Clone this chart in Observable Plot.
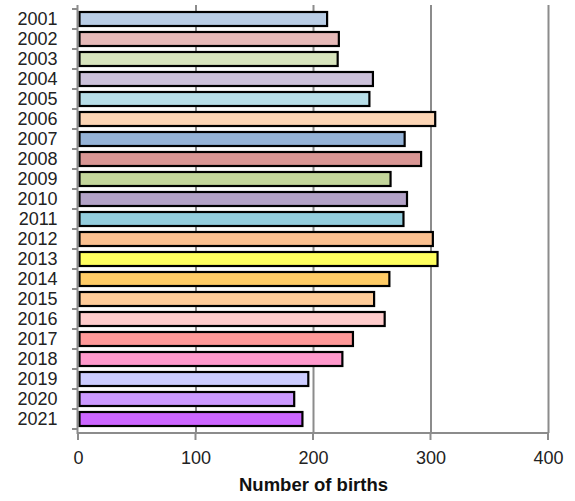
<!DOCTYPE html>
<html>
<head>
<meta charset="utf-8">
<script src="https://cdn.jsdelivr.net/npm/d3@7"></script>
<script src="https://cdn.jsdelivr.net/npm/@observablehq/plot@0.6"></script>
<style>
  html, body { margin: 0; padding: 0; background: #fff; }
  #chart svg { display: block; }
</style>
</head>
<body>
<div id="chart"></div>
<script>
const years = ["2001","2002","2003","2004","2005","2006","2007","2008","2009","2010","2011",
               "2012","2013","2014","2015","2016","2017","2018","2019","2020","2021"];
const births = [212, 222, 221, 251, 248, 304, 278, 292, 266, 280, 277,
                302, 306, 265, 252, 261, 234, 225, 196, 184, 191];
const barColors = ["#b9cde5","#e6b9b8","#d7e4bd","#ccc1da","#b7dee8","#fcd5b5","#95b3d7","#d99694",
                   "#c3d69b","#b3a2c7","#93cddd","#fac090","#ffff5f","#ffcc66","#ffcc99","#ffcccc",
                   "#ff9999","#ff99cc","#ccccff","#cc99ff","#cc66ff"];
const xTicks = [0, 100, 200, 300, 400];
const gridValues = [100, 200, 300, 400];
const xLabel = "Number of births";

const data = years.map((y, i) => ({year: y, value: births[i], color: barColors[i]}));
const gray = "#8c8c8c";
const font = "Liberation Sans, Arial, sans-serif";

function axisLines(index, scales, values, dimensions) {
  const {x, y} = scales;
  const {marginTop, marginBottom, height} = dimensions;
  const bottom = height - marginBottom;
  const x0 = x(0);
  const step = y(years[1]) - y(years[0]);
  const bw = typeof y.bandwidth === "function" ? y.bandwidth() : step * 0.7;
  const g = d3.create("svg:g").attr("stroke", gray).attr("stroke-width", 2).attr("fill", "none");
  g.append("line").attr("x1", x0 - 0.5).attr("x2", x0 - 0.5).attr("y1", marginTop).attr("y2", bottom + 1);
  g.append("line").attr("x1", x0 - 1).attr("x2", x(xTicks[xTicks.length - 1])).attr("y1", bottom).attr("y2", bottom);
  const bounds = years.map(yr => y(yr) + bw / 2 - step / 2);
  bounds.push(y(years[years.length - 1]) + bw / 2 + step / 2);
  for (const b of bounds) {
    g.append("line").attr("x1", x0 - 6).attr("x2", x0).attr("y1", b).attr("y2", b);
  }
  for (const t of xTicks) {
    g.append("line").attr("x1", x(t)).attr("x2", x(t)).attr("y1", bottom).attr("y2", bottom + 7);
  }
  return g.node();
}

const chart = Plot.plot({
  width: 575,
  height: 501,
  marginTop: 5,
  marginBottom: 68,
  marginLeft: 78,
  marginRight: 27,
  style: {fontFamily: font, fontSize: "18px", color: "#222", background: "#fff"},
  x: {domain: [0, 400], axis: null},
  y: {domain: years, paddingInner: 0.3, paddingOuter: 0.15, axis: null},
  color: {type: "identity"},
  marks: [
    Plot.ruleX(gridValues, {stroke: gray, strokeWidth: 2}),
    Plot.barX(data, {x: "value", y: "year", fill: "color", stroke: "#000", strokeWidth: 2.2, insetLeft: 1.5}),
    axisLines,
    Plot.axisY({tickSize: 0, tickPadding: 21, fontSize: 18, fill: "#222", label: null}),
    Plot.axisX({ticks: xTicks, tickSize: 0, tickPadding: 18, fontSize: 18, fill: "#222", label: null}),
    Plot.text([xLabel], {text: d => d, frameAnchor: "bottom", dy: 57, fontSize: 18.5, fontWeight: "bold", fill: "#111"})
  ]
});
document.getElementById("chart").appendChild(chart);
</script>
</body>
</html>
